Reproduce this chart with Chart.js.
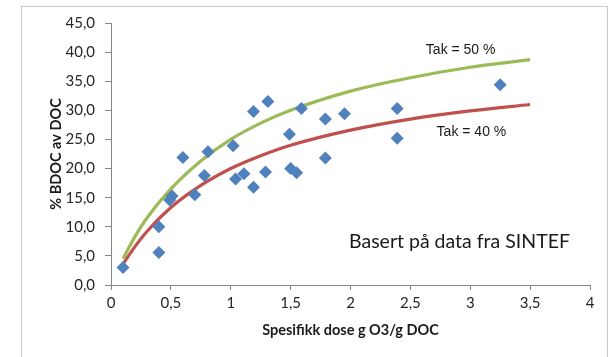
<!DOCTYPE html>
<html>
<head>
<meta charset="utf-8">
<script src="https://cdn.jsdelivr.net/npm/chart.js@4/dist/chart.umd.min.js"></script>
<style>
  html, body { margin: 0; padding: 0; background: #ffffff; }
  #wrap { width: 613px; height: 357px; position: relative; }
</style>
</head>
<body>
<div id="wrap"><canvas id="c" width="613" height="357"></canvas></div>
<script>
// ---- Data ----
const doseX = [0.10, 0.40, 0.40, 0.49, 0.51, 0.60, 0.70, 0.78, 0.81, 1.02, 1.04, 1.11, 1.19, 1.19, 1.29, 1.31, 1.49, 1.50, 1.55, 1.59, 1.79, 1.79, 1.95, 2.39, 2.39, 3.25];
const bdocY = [3.0, 5.6, 10.0, 14.6, 15.3, 21.9, 15.5, 18.8, 22.9, 23.9, 18.2, 19.1, 16.8, 29.8, 19.4, 31.5, 25.9, 20.0, 19.3, 30.3, 28.5, 21.8, 29.4, 30.3, 25.2, 34.4];

const curveX = [0.1, 0.2, 0.3, 0.5, 0.75, 1.0, 1.25, 1.5, 2.0, 2.5, 3.0, 3.5];
const tak50Y = [4.5, 8.3, 11.5, 16.5, 21.3, 25.0, 27.8, 30.0, 33.3, 35.6, 37.4, 38.7];
const tak40Y = [3.6, 6.6, 9.2, 13.3, 17.1, 20.0, 22.2, 24.0, 26.6, 28.5, 29.9, 31.0];

const xTicks = [0, 0.5, 1, 1.5, 2, 2.5, 3, 3.5, 4];
const yTicks = [0, 5, 10, 15, 20, 25, 30, 35, 40, 45];

const seriesNames = ["Data SINTEF", "Tak = 50 %", "Tak = 40 %"];
const noteTexts = ["Tak = 50 %", "Tak = 40 %", "Basert på data fra SINTEF"];
const noteX = [2.92, 3.01, 2.91];
const noteY = [40.4, 26.2, 7.4];

const xTitle = "Spesifikk dose g O3/g DOC";
const yTitle = "% BDOC av DOC";

// ---- Build datasets ----
const pts = doseX.map((x, i) => ({ x: x, y: bdocY[i] }));
const c50 = curveX.map((x, i) => ({ x: x, y: tak50Y[i] }));
const c40 = curveX.map((x, i) => ({ x: x, y: tak40Y[i] }));

const fmt = v => String(v).replace('.', ',');

const decorPlugin = {
  id: 'decor',
  beforeDraw(chart) {
    const ctx = chart.ctx;
    ctx.save();
    ctx.fillStyle = '#ffffff';
    ctx.fillRect(0, 0, chart.width, chart.height);
    ctx.strokeStyle = '#c8c8c8';
    ctx.lineWidth = 1;
    ctx.strokeRect(21.5, 6.5, 586, 360);
    ctx.restore();
  },
  afterDatasetsDraw(chart) {
    const ctx = chart.ctx;
    const xs = chart.scales.x, ys = chart.scales.y;
    ctx.save();
    ctx.fillStyle = '#1a1a1a';
    ctx.textAlign = 'center';
    ctx.textBaseline = 'middle';
    const fonts = ['14px "Liberation Sans", Arial, sans-serif', '14px "Liberation Sans", Arial, sans-serif', '19.5px Lato, "Open Sans", sans-serif'];
    noteTexts.forEach((t, i) => {
      ctx.font = fonts[i];
      ctx.fillText(t, xs.getPixelForValue(noteX[i]), ys.getPixelForValue(noteY[i]));
    });
    ctx.restore();
  }
};

new Chart(document.getElementById('c'), {
  data: {
    datasets: [
      {
        type: 'scatter',
        label: seriesNames[0],
        data: pts,
        pointStyle: 'rectRot',
        pointRadius: 6.5,
        pointHoverRadius: 6.5,
        backgroundColor: '#4F81BD',
        borderColor: '#4F81BD',
        borderWidth: 0,
        order: 0
      },
      {
        type: 'line',
        label: seriesNames[1],
        data: c50,
        borderColor: '#9BBB59',
        borderWidth: 3.2,
        pointRadius: 0,
        tension: 0.4,
        cubicInterpolationMode: 'monotone',
        fill: false,
        order: 1
      },
      {
        type: 'line',
        label: seriesNames[2],
        data: c40,
        borderColor: '#C0504D',
        borderWidth: 3.2,
        pointRadius: 0,
        tension: 0.4,
        cubicInterpolationMode: 'monotone',
        fill: false,
        order: 2
      }
    ]
  },
  options: {
    responsive: false,
    devicePixelRatio: 1,
    animation: false,
    events: [],
    layout: { padding: { left: 0, right: 23, top: 23, bottom: 0 } },
    plugins: { legend: { display: false }, tooltip: { enabled: false } },
    scales: {
      x: {
        type: 'linear',
        min: 0, max: 4,
        afterBuildTicks: s => { s.ticks = xTicks.map(v => ({ value: v })); },
        afterFit: s => { s.height = 72; },
        ticks: {
          callback: v => fmt(v),
          color: '#262626',
          font: { family: 'Lato, "Open Sans", sans-serif', size: 15 },
          padding: 4,
          maxRotation: 0
        },
        grid: { drawOnChartArea: false, drawTicks: true, tickLength: 5, color: '#868686' },
        border: { color: '#868686', width: 1 },
        title: {
          display: true,
          text: xTitle,
          color: '#1a1a1a',
          font: { family: 'Lato, "Open Sans", sans-serif', size: 14.5, weight: 'bold' },
          padding: { top: 0, bottom: 18 }
        }
      },
      y: {
        type: 'linear',
        min: 0, max: 45,
        afterBuildTicks: s => { s.ticks = yTicks.map(v => ({ value: v })); },
        afterFit: s => { s.width = 111; },
        ticks: {
          callback: v => v.toFixed(1).replace('.', ','),
          color: '#262626',
          font: { family: 'Lato, "Open Sans", sans-serif', size: 15 },
          padding: 10
        },
        grid: { drawOnChartArea: false, drawTicks: true, tickLength: 6, color: '#868686' },
        border: { color: '#868686', width: 1 },
        title: {
          display: true,
          text: yTitle,
          color: '#1a1a1a',
          font: { family: 'Lato, "Open Sans", sans-serif', size: 14.5, weight: 'bold' },
          padding: { top: 48, bottom: 0 }
        }
      }
    }
  },
  plugins: [decorPlugin]
});
</script>
</body>
</html>
